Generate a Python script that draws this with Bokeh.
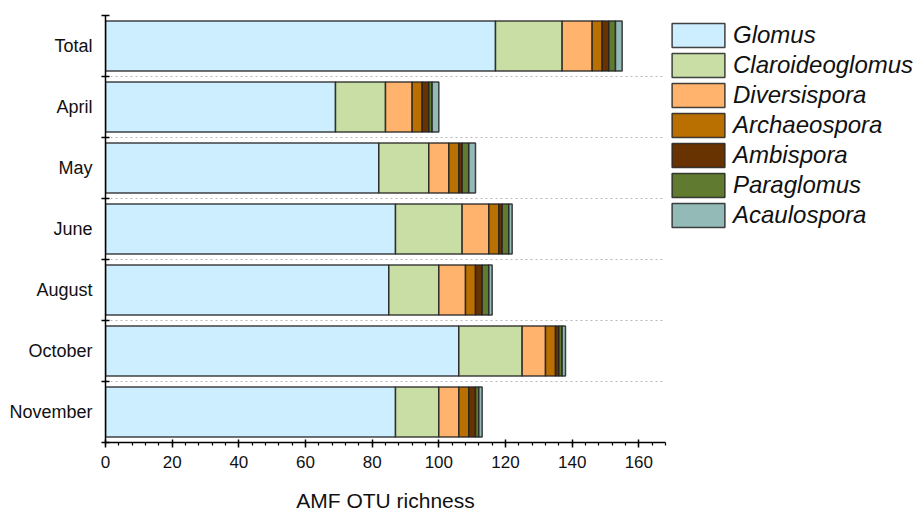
from bokeh.plotting import figure
from bokeh.models import FixedTicker, Legend, LegendItem, ColumnDataSource, Range1d
from bokeh.embed import file_html
from bokeh.resources import INLINE

# ---- data (top row first) ----
categories = ["Total", "April", "May", "June", "August", "October", "November"]
glomus          = [117, 69, 82, 87, 85, 106, 87]
claroideoglomus = [20, 15, 15, 20, 15, 19, 13]
diversispora    = [9, 8, 6, 8, 8, 7, 6]
archaeospora    = [3, 3, 3, 3, 3, 3, 3]
ambispora       = [2, 2, 1, 1, 2, 1, 2]
paraglomus      = [2, 1, 2, 2, 2, 1, 1]
acaulospora     = [2, 2, 2, 1, 1, 1, 1]

genera = ["Glomus", "Claroideoglomus", "Diversispora", "Archaeospora",
          "Ambispora", "Paraglomus", "Acaulospora"]
series = [glomus, claroideoglomus, diversispora, archaeospora,
          ambispora, paraglomus, acaulospora]
colors = ["#cdeeff", "#c8dea4", "#ffb36c", "#ba7000",
          "#683300", "#607a30", "#94bab8"]

x_ticks = [0, 20, 40, 60, 80, 100, 120, 140, 160]

n = len(categories)
ypos = [n - i - 0.5 for i in range(n)]
data = {"y": ypos}
for g, s in zip(genera, series):
    data[g] = s
src = ColumnDataSource(data)

FONT = "Liberation Sans"
FW, FH = 560, 427

p = figure(frame_width=FW, frame_height=FH, output_backend="svg",
           toolbar_location=None, x_range=Range1d(0, 168), y_range=Range1d(0, n),
           min_border_left=105, min_border_top=15, min_border_bottom=66,
           min_border_right=0)
p.outline_line_color = None

rs = p.hbar_stack(genera, y="y", height=0.82, source=src, color=colors,
                  line_color="#222222", line_width=1.5, line_alpha=0.85)

# x axis
xa = p.xaxis[0]
xa.ticker = FixedTicker(ticks=x_ticks, minor_ticks=list(range(0, 169, 4)))
xa.axis_line_width = 1.5
xa.major_tick_line_width = 1.5
xa.major_tick_in = 3
xa.major_tick_out = 5
xa.minor_tick_in = 0
xa.minor_tick_out = 3
xa.minor_tick_line_width = 1.2
xa.major_label_text_font = FONT
xa.major_label_text_font_size = "17px"
xa.major_label_text_color = "#111111"
xa.major_label_standoff = 8
xa.axis_label = "AMF OTU richness"
xa.axis_label_text_font = FONT
xa.axis_label_text_font_size = "21px"
xa.axis_label_text_font_style = "normal"
xa.axis_label_text_color = "#111111"
xa.axis_label_standoff = 18

# y axis
ya = p.yaxis[0]
ya.ticker = FixedTicker(ticks=ypos, minor_ticks=list(range(0, n + 1)))
ya.major_label_overrides = {y: c for y, c in zip(ypos, categories)}
ya.axis_line_width = 1.5
ya.major_tick_in = 0
ya.major_tick_out = 0
ya.minor_tick_in = 4
ya.minor_tick_out = 4
ya.minor_tick_line_width = 1.5
ya.major_label_text_font = FONT
ya.major_label_text_font_size = "18px"
ya.major_label_text_color = "#111111"
ya.major_label_standoff = 9

p.xgrid.grid_line_color = None
p.ygrid.ticker = FixedTicker(ticks=list(range(1, n)))
p.ygrid.grid_line_color = "#b8b8b8"
p.ygrid.grid_line_dash = "2 3"
p.ygrid.grid_line_width = 1

items = [LegendItem(label=g, renderers=[r]) for g, r in zip(genera, rs)]
legend = Legend(items=items, location="top_left", orientation="vertical",
                glyph_width=66, glyph_height=30, spacing=0, label_standoff=2,
                label_text_font=FONT, label_text_font_size="24px",
                label_text_color="#111111",
                label_text_font_style="italic", label_height=30,
                title=" ", title_text_font_size="1px", title_standoff=4,
                border_line_color=None, background_fill_alpha=0,
                margin=0, padding=2)
p.add_layout(legend, "right")

open("out.html", "w").write(file_html(p, INLINE))
